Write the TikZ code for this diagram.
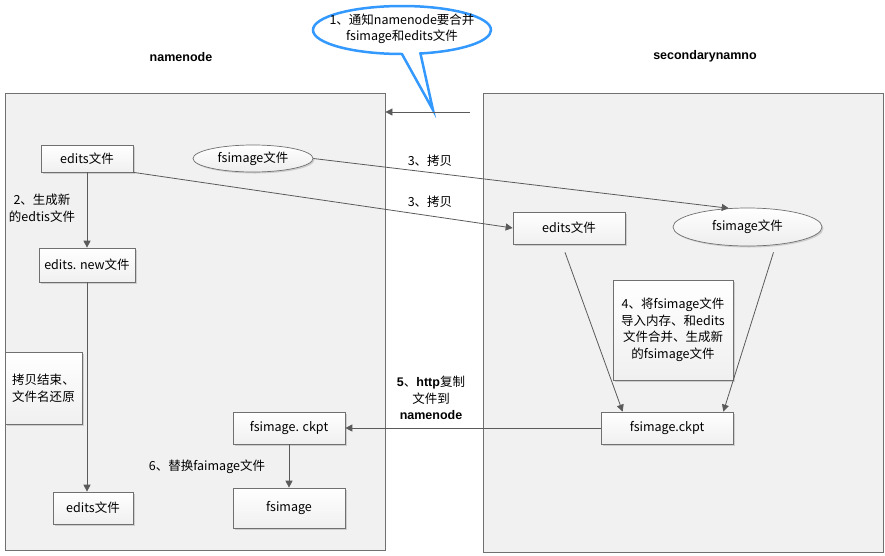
\documentclass[tikz,border=0pt]{standalone}
\usepackage{fontspec}
\newfontfamily\cjk{Noto Sans CJK SC}
\newfontfamily\tfont{Liberation Sans}
\usetikzlibrary{arrows.meta,shapes.geometric,shapes.callouts,shadows,calc}
\definecolor{lc}{HTML}{5A5A5A}
\definecolor{bd}{HTML}{707070}
\definecolor{pf}{HTML}{F1F1F1}
\definecolor{cbl}{HTML}{3399FF}
\begin{document}
\begin{tikzpicture}[x=1pt,y=-1pt,
 every node/.style={font=\cjk\fontsize{12.5}{16.5}\selectfont},
 panel/.style={draw=bd, fill=pf, line width=0.8pt, inner sep=0},
 box/.style={draw=bd, top color=white, bottom color=gray!12, drop shadow={shadow xshift=1.5pt, shadow yshift=-1.5pt, opacity=0.3}, inner sep=0, align=center, line width=0.7pt},
 oval/.style={ellipse, draw=bd, top color=white, bottom color=gray!14, drop shadow={shadow xshift=1.5pt, shadow yshift=-1.5pt, opacity=0.3}, inner sep=0, line width=0.7pt},
 conn/.style={draw=lc, line width=0.8pt, -{Triangle[length=7pt,width=7pt]}},
 lbl/.style={align=center, inner sep=0},
 ttl/.style={font=\tfont\bfseries\fontsize{12.5}{14}\selectfont}]
\useasboundingbox (0,0) rectangle (885,555);
\node[panel, minimum width=380pt, minimum height=457pt] (lp) at (195,321.5) {};
\node[panel, minimum width=400pt, minimum height=459pt] (rp) at (683,322.5) {};
\node[ttl] (t1) at (181,57) {namenode};
\node[ttl] (t2) at (705,56) {secondarynamno};

\node[box, minimum width=92pt, minimum height=27pt] (el) at (87,158.5) {edits文件};
\node[oval, minimum width=120pt, minimum height=27pt] (fl) at (253,158.5) {fsimage文件};
\node[box, minimum width=96pt, minimum height=34pt] (en) at (87,265) {edits. new文件};
\node[box, minimum width=77pt, minimum height=72pt] (cbx) at (43.5,388) {拷贝结束、\\文件名还原};
\node[box, minimum width=80pt, minimum height=32pt] (eb) at (93,508) {edits文件};
\node[box, minimum width=112pt, minimum height=32pt] (ckl) at (289,428) {fsimage. ckpt};
\node[box, minimum width=112pt, minimum height=40pt] (fsb) at (289,508) {fsimage};
\node[box, minimum width=112pt, minimum height=32pt] (er) at (569,228) {edits文件};
\node[oval, minimum width=149pt, minimum height=38pt] (fr) at (747.5,227) {fsimage文件};
\node[box, minimum width=120pt, minimum height=100pt] (nt) at (673,330) {4、将fsimage文件\\导入内存、和edits\\文件合并、生成新\\的fsimage文件};
\node[box, minimum width=132pt, minimum height=32pt] (ckr) at (667,428) {fsimage.ckpt};

\node[lbl] (l2) at (42,208) {2、生成新\\的edtis文件};
\node[lbl] (l3a) at (430,161) {3、拷贝};
\node[lbl] (l3b) at (430,202) {3、拷贝};
\node[lbl] (l6) at (207,467) {6、替换faimage文件};
\node[lbl] (l5) at (431,398) {{\tfont\bfseries 5}、{\tfont\bfseries http}复制\\文件到\\{\tfont\bfseries namenode}};

\node[ellipse callout, draw=cbl, line width=2.5pt, fill=white, minimum width=178pt, minimum height=48pt, callout absolute pointer={(433,110)}, callout pointer arc=12] (co) at (402,30) {};
\node[lbl] (cot) at (402,29) {1、通知namenode要合并\\fsimage和edits文件};

\coordinate (a0) at (470,112);
\draw[conn] (a0) -- (a0 -| lp.east);
\draw[conn] (el) -- (en);
\draw[conn] (en.south) -- (en.south |- eb.north);
\draw[conn] (el.south east) -- (er.west);
\draw[conn] (fl.east) -- (fr.135);
\draw[conn] ($(er.south)+(-4,8)$) -- ($(ckr.north west)+(22,0)$);
\draw[conn] ($(fr.south)+(26,6)$) -- ($(ckr.north east)+(-10,0)$);
\draw[conn] (ckr) -- (ckl);
\draw[conn] (ckl) -- (fsb);
\end{tikzpicture}
\end{document}
